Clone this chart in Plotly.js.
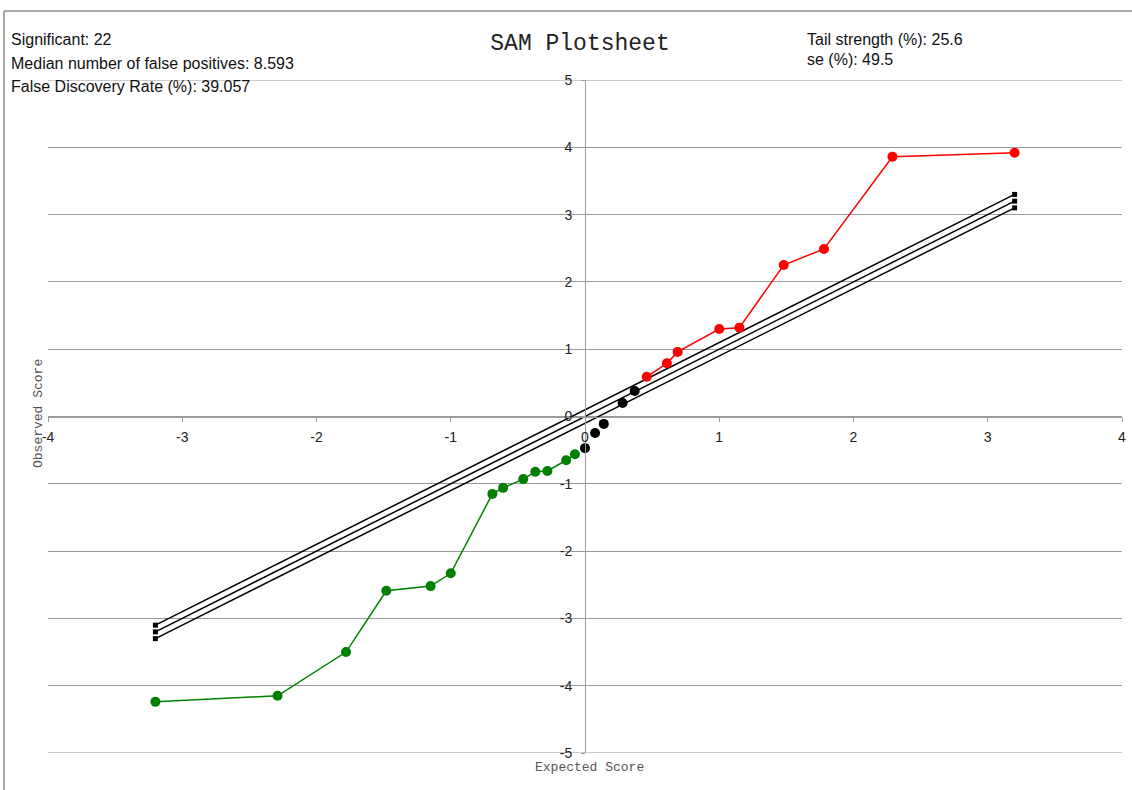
<!DOCTYPE html>
<html>
<head>
<meta charset="utf-8">
<script src="https://cdn.plot.ly/plotly-3.0.1.min.js"></script>
<style>html,body{margin:0;padding:0;background:#fff;}#chart{width:1132px;height:790px;}</style>
</head>
<body>
<div id="chart"></div>
<script>
// Data
const negExpected = [-3.2, -2.29, -1.78, -1.48, -1.15, -1.0, -0.69, -0.61, -0.46, -0.37, -0.28, -0.14, -0.075];
const negObserved = [-4.24, -4.15, -3.50, -2.59, -2.52, -2.33, -1.15, -1.06, -0.93, -0.82, -0.81, -0.65, -0.56];
const midExpected = [0, 0.075, 0.14, 0.28, 0.37];
const midObserved = [-0.47, -0.245, -0.11, 0.20, 0.38];
const posExpected = [0.46, 0.61, 0.69, 1.0, 1.15, 1.48, 1.78, 2.29, 3.2];
const posObserved = [0.59, 0.79, 0.96, 1.30, 1.32, 2.25, 2.49, 3.86, 3.92];
const cutoffX = [-3.2, 3.2];
const cutoffUpper = [-3.1, 3.3];
const cutoffMid = [-3.2, 3.2];
const cutoffLower = [-3.3, 3.1];
const xTicks = [-4, -3, -2, -1, 0, 1, 2, 3, 4];
const yTicks = [-5, -4, -3, -2, -1, 0, 1, 2, 3, 4, 5];
const statsLeft = ["Significant: 22", "Median number of false positives: 8.593", "False Discovery Rate (%): 39.057"];
const statsRight = ["Tail strength (%): 25.6", "se (%): 49.5"];

const W = 1132, H = 790, ML = 48, MR = 10, MT = 80, MB = 37;
const PW = W - ML - MR, PH = H - MT - MB;
const px = x => (x - ML) / PW;
const py = y => (H - MB - y) / PH;

const lineStyle = {color: '#000', width: 1.5};
const sq = {symbol: 'square', size: 5, color: '#000'};
const traces = [
  {x: cutoffX, y: cutoffUpper, mode: 'lines+markers', line: lineStyle, marker: sq},
  {x: cutoffX, y: cutoffMid, mode: 'lines+markers', line: lineStyle, marker: sq},
  {x: cutoffX, y: cutoffLower, mode: 'lines+markers', line: lineStyle, marker: sq},
  {x: negExpected, y: negObserved, mode: 'lines+markers', line: {color: '#008000', width: 1.5}, marker: {color: '#008000', size: 10}},
  {x: midExpected, y: midObserved, mode: 'markers', marker: {color: '#000', size: 10}},
  {x: posExpected, y: posObserved, mode: 'lines+markers', line: {color: '#ff0000', width: 1.5}, marker: {color: '#ff0000', size: 10}}
];

const tickFont = {family: 'Liberation Sans, Arial, sans-serif', size: 14, color: '#222'};
const annFont = {family: 'Liberation Sans, Arial, sans-serif', size: 16, color: '#111'};
const annotations = [];
statsLeft.forEach((t, i) => annotations.push({text: t, xref: 'paper', yref: 'paper', x: px(9), y: py(40 + i * 23.5), xanchor: 'left', yanchor: 'middle', showarrow: false, font: annFont}));
statsRight.forEach((t, i) => annotations.push({text: t, xref: 'paper', yref: 'paper', x: px(805), y: py(40 + i * 19.5), xanchor: 'left', yanchor: 'middle', showarrow: false, font: annFont}));
annotations.push({text: 'Expected Score', xref: 'paper', yref: 'paper', x: px(589), y: py(767), xanchor: 'center', yanchor: 'middle', showarrow: false, font: {family: 'Liberation Mono, monospace', size: 13, color: '#555'}});
annotations.push({text: 'Observed Score', xref: 'paper', yref: 'paper', x: px(38), y: py(414), xanchor: 'center', yanchor: 'middle', textangle: -90, showarrow: false, font: {family: 'Liberation Mono, monospace', size: 13, color: '#555'}});

const gridColor = '#9a9a9a';
const edgeGrid = [yTicks[0], yTicks[yTicks.length - 1]].map(v => ({type: 'line', xref: 'paper', yref: 'y', x0: 0, x1: 1, y0: v, y1: v, layer: 'below', line: {color: gridColor, width: 1}}));

const layout = {
  width: W, height: H,
  margin: {l: ML, r: MR, t: MT, b: MB, pad: 0},
  paper_bgcolor: '#fff', plot_bgcolor: '#fff',
  showlegend: false,
  hovermode: false,
  title: {text: 'SAM Plotsheet', font: {family: 'Liberation Mono, monospace', size: 23, color: '#222'}, xref: 'container', yref: 'container', x: 580 / W, xanchor: 'center', y: 1 - 42 / H, yanchor: 'middle'},
  xaxis: {range: [-4, 4], tickvals: xTicks, ticktext: xTicks.map(String), anchor: 'free', position: 0.5,
    showgrid: false, zeroline: false, showline: true, linecolor: gridColor, linewidth: 1,
    ticks: 'outside', ticklen: 4, tickcolor: gridColor, tickfont: tickFont, ticklabelstandoff: 4},
  yaxis: {range: [-5, 5], tickvals: yTicks, ticktext: yTicks.map(String), anchor: 'free', position: 0.5,
    showgrid: true, gridcolor: gridColor, gridwidth: 1, zeroline: false, showline: true, linecolor: gridColor, linewidth: 1,
    ticks: 'outside', ticklen: 4, tickcolor: gridColor, tickfont: tickFont, ticklabelstandoff: 6},
  shapes: [
    {type: 'line', xref: 'paper', yref: 'paper', x0: px(4), x1: px(1140), y0: py(11), y1: py(11), line: {color: '#8c8c8c', width: 1.5}},
    {type: 'line', xref: 'paper', yref: 'paper', x0: px(4), x1: px(4), y0: py(11), y1: py(800), line: {color: '#8c8c8c', width: 1.5}}
  ].concat(edgeGrid),
  annotations: annotations
};

Plotly.newPlot('chart', traces, layout, {displayModeBar: false, staticPlot: true});
</script>
</body>
</html>
